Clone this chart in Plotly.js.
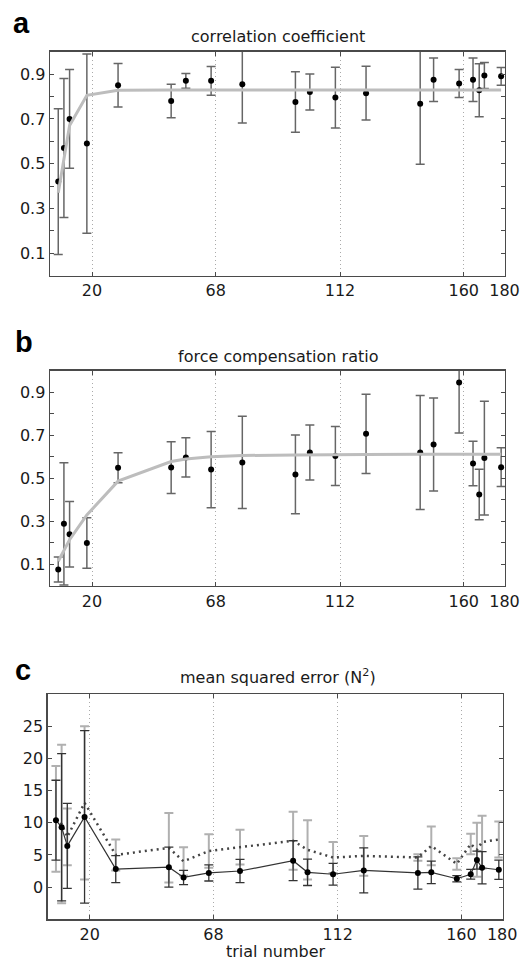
<!DOCTYPE html>
<html>
<head>
<meta charset="utf-8">
<script src="https://cdn.plot.ly/plotly-3.0.1.min.js"></script>
<style>
html,body{margin:0;padding:0;background:#fff;}
#chart{width:524px;height:963px;}
</style>
</head>
<body>
<div id="chart"></div>
<script>
// x positions of the measurement blocks (axis units)
const trialPos = [6.9, 9.1, 11.3, 18.0, 30.1, 50.7, 56.4, 66.2, 78.3, 98.9, 104.5, 114.4, 126.3, 147.3, 152.5, 162.4, 167.8, 170.2, 172.2, 178.7];
const xTickPos = [20, 68, 116.2, 164.2, 180];
const xTickLabels = ['20', '68', '112', '160', '180'];

// panel a: correlation coefficient
const corrMean = [0.42, 0.57, 0.70, 0.59, 0.85, 0.78, 0.87, 0.87, 0.855, 0.775, 0.82, 0.795, 0.815, 0.768, 0.875, 0.858, 0.875, 0.828, 0.894, 0.89];
const corrErr = [0.325, 0.31, 0.22, 0.40, 0.097, 0.075, 0.033, 0.064, 0.173, 0.135, 0.08, 0.136, 0.12, 0.27, 0.097, 0.063, 0.097, 0.118, 0.058, 0.04];
const corrFit = [0.37, 0.53, 0.67, 0.805, 0.828, 0.829, 0.829, 0.829, 0.829, 0.829, 0.829, 0.829, 0.829, 0.829, 0.829, 0.829, 0.829, 0.829, 0.829, 0.829];

// panel b: force compensation ratio
const fcrMean = [0.077, 0.289, 0.24, 0.20, 0.549, 0.55, 0.597, 0.541, 0.574, 0.518, 0.62, 0.604, 0.707, 0.62, 0.657, 0.945, 0.569, 0.425, 0.594, 0.552];
const fcrErr = [0.058, 0.284, 0.152, 0.117, 0.07, 0.12, 0.091, 0.177, 0.214, 0.183, 0.128, 0.137, 0.184, 0.265, 0.216, 0.234, 0.103, 0.117, 0.264, 0.09];
const fcrFit = [0.115, 0.165, 0.215, 0.33, 0.487, 0.578, 0.590, 0.600, 0.606, 0.609, 0.610, 0.611, 0.611, 0.612, 0.612, 0.612, 0.612, 0.612, 0.612, 0.612];

// panel c: mean squared error
const mseMean = [10.4, 9.3, 6.4, 10.9, 2.8, 3.1, 1.5, 2.2, 2.5, 4.1, 2.3, 2.0, 2.6, 2.2, 2.3, 1.3, 2.0, 4.2, 3.0, 2.7];
const mseErr = [6.2, 11.45, 6.6, 13.4, 2.1, 3.1, 1.1, 1.25, 1.8, 3.1, 2.05, 1.7, 3.5, 2.5, 1.75, 0.5, 0.75, 1.4, 2.5, 1.5];
const mseDotMean = [10.6, 9.8, 7.8, 13.1, 5.0, 6.1, 4.0, 5.6, 6.2, 7.2, 5.8, 4.6, 4.85, 4.6, 6.4, 3.6, 6.7, 5.8, 7.0, 7.4];
const mseDotErr = [8.2, 12.3, 4.4, 11.9, 2.4, 5.4, 2.2, 2.6, 2.7, 4.5, 4.6, 2.4, 3.1, 0.5, 3.0, 0.9, 1.6, 4.2, 4.1, 2.8];

const yTickA = [0.1, 0.3, 0.5, 0.7, 0.9];
const yTickALabels = ['0.1', '0.3', '0.5', '0.7', '0.9'];
const yMinorA = [0.2, 0.4, 0.6, 0.8];
const yTickC = [0, 5, 10, 15, 20, 25];

const FONT = 'DejaVu Sans, Arial, sans-serif';

const barStyle = {type: 'data', color: '#666', thickness: 1.5, width: 4.5};
const traces = [
  {x: trialPos, y: corrMean, xaxis: 'x', yaxis: 'y', mode: 'markers',
   marker: {color: '#000', size: 6}, error_y: Object.assign({array: corrErr}, barStyle)},
  {x: trialPos, y: corrFit, xaxis: 'x', yaxis: 'y', mode: 'lines',
   line: {color: '#bdbdbd', width: 3}},
  {x: trialPos, y: fcrMean, xaxis: 'x2', yaxis: 'y2', mode: 'markers',
   marker: {color: '#000', size: 6}, error_y: Object.assign({array: fcrErr}, barStyle)},
  {x: trialPos, y: fcrFit, xaxis: 'x2', yaxis: 'y2', mode: 'lines',
   line: {color: '#bdbdbd', width: 3}},
  {x: trialPos, y: mseDotMean, xaxis: 'x3', yaxis: 'y3', mode: 'lines',
   line: {color: '#444', width: 2.5, dash: '2px,4px'},
   error_y: {type: 'data', array: mseDotErr, color: '#b0b0b0', thickness: 2, width: 4.5}},
  {x: trialPos, y: mseMean, xaxis: 'x3', yaxis: 'y3', mode: 'lines+markers',
   line: {color: '#333', width: 1.2}, marker: {color: '#000', size: 6},
   error_y: {type: 'data', array: mseErr, color: '#333', thickness: 1.3, width: 4.5}}
];

function xAxis(domain, anchor) {
  return {
    domain: domain, anchor: anchor, range: [3.7, 180.2],
    tickmode: 'array', tickvals: xTickPos, ticktext: xTickLabels,
    showgrid: true, gridcolor: '#aaa', griddash: '1px,3px', gridwidth: 1,
    showline: true, mirror: 'ticks', linecolor: '#4a4a4a', linewidth: 1.4,
    ticks: 'inside', ticklen: 4, tickcolor: '#4a4a4a',
    zeroline: false, tickfont: {family: FONT, size: 16, color: '#1a1a1a'}
  };
}
function yAxis(domain, anchor, range, vals, labels, minorVals) {
  const ax = {
    domain: domain, anchor: anchor, range: range,
    tickmode: 'array', tickvals: vals, ticktext: labels,
    showgrid: false, showline: true, mirror: 'ticks', linecolor: '#4a4a4a', linewidth: 1.4,
    ticks: 'inside', ticklen: 4, tickcolor: '#4a4a4a',
    zeroline: false, tickfont: {family: FONT, size: 16, color: '#1a1a1a'}
  };
  if (minorVals) {
    ax.minor = {tickmode: 'array', tickvals: minorVals, ticks: 'inside', ticklen: 4,
                tickcolor: '#4a4a4a', showgrid: false};
  }
  return ax;
}

const W = 524, H = 963;
const layout = {
  width: W, height: H, margin: {l: 0, r: 0, t: 0, b: 0},
  paper_bgcolor: '#fff', plot_bgcolor: '#fff', showlegend: false,
  xaxis: xAxis([50 / W, 505 / W], 'y'),
  yaxis: yAxis([1 - 275.7 / H, 1 - 51.7 / H], 'x', [0, 1], yTickA, yTickALabels, yMinorA),
  xaxis2: xAxis([50 / W, 505 / W], 'y2'),
  yaxis2: yAxis([1 - 586 / H, 1 - 370.7 / H], 'x2', [0, 1], yTickA, yTickALabels, yMinorA),
  xaxis3: xAxis([47.7 / W, 502.7 / W], 'y3'),
  yaxis3: yAxis([1 - 919.3 / H, 1 - 694 / H], 'x3', [-5, 30], yTickC, yTickC.map(String)),
  annotations: [
    {text: 'correlation coefficient', x: 277.5 / W, y: 1 - 36.7 / H},
    {text: 'force compensation ratio', x: 277.5 / W, y: 1 - 356.7 / H},
    {text: 'mean squared error (N<sup>2</sup>)', x: 277.5 / W, y: 1 - 676.7 / H},
    {text: 'trial number', x: 276 / W, y: 1 - 951.7 / H}
  ].map(a => Object.assign({xref: 'paper', yref: 'paper', showarrow: false,
    xanchor: 'center', yanchor: 'middle', font: {family: FONT, size: 16, color: '#1a1a1a'}}, a))
  .concat([
    {text: '<b>a</b>', x: 21 / W, y: 1 - 23 / H},
    {text: '<b>b</b>', x: 24 / W, y: 1 - 342 / H},
    {text: '<b>c</b>', x: 22.5 / W, y: 1 - 670 / H}
  ].map(a => Object.assign({xref: 'paper', yref: 'paper', showarrow: false,
    xanchor: 'center', yanchor: 'middle', font: {family: 'Liberation Sans, Arial, sans-serif', size: 29, color: '#000'}}, a)))
};

Plotly.newPlot('chart', traces, layout, {displayModeBar: false, staticPlot: true});
</script>
</body>
</html>
